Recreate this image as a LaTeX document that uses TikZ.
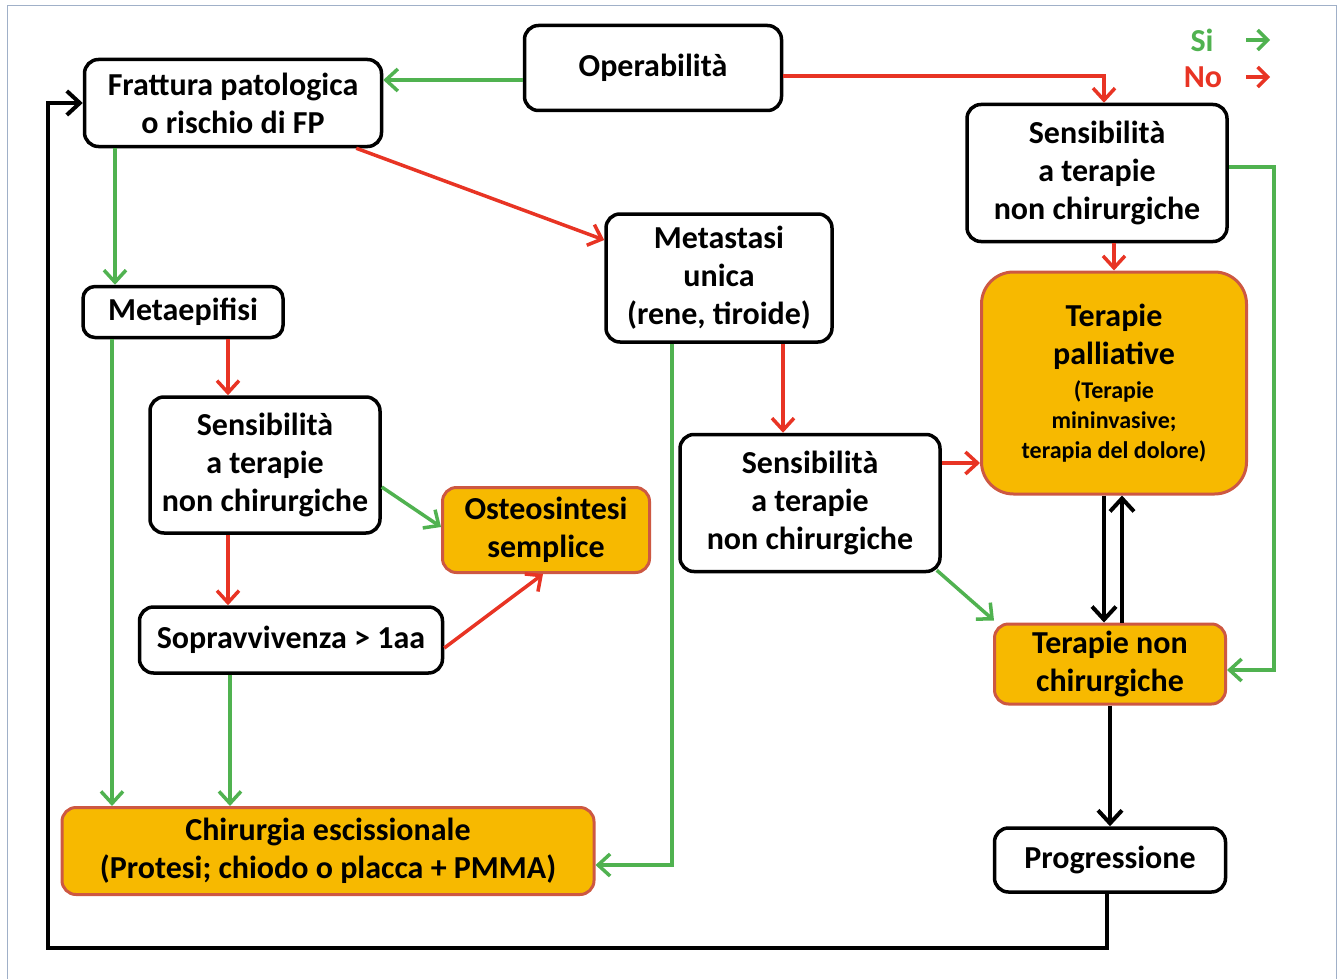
\documentclass[tikz,border=0pt]{standalone}
\usepackage{fontspec}
\setmainfont{Carlito}
\usetikzlibrary{arrows.meta}
\definecolor{grn}{RGB}{80,178,80}
\definecolor{rd}{RGB}{232,52,36}
\definecolor{orng}{RGB}{247,185,0}
\definecolor{orbord}{RGB}{205,88,66}
\definecolor{framec}{RGB}{160,176,200}
\tikzset{
  box/.style={draw=black, line width=3.5pt, rounded corners=14pt, fill=white, align=center,
    font=\bfseries\fontsize{32}{38}\selectfont, inner sep=0pt},
  obox/.style={box, fill=orng, draw=orbord, line width=3pt},
  tip/.style={-{Straight Barb[length=12pt,width=22pt,line width=3.5pt]}},
  gA/.style={draw=grn, line width=3.5pt, tip},
  rA/.style={draw=rd, line width=3.5pt, tip},
  kA/.style={draw=black, line width=4pt, -{Straight Barb[length=13pt,width=24pt,line width=4pt]}},
}
\newcommand{\smallpal}{\fontsize{24}{30}\selectfont}
\begin{document}
\begin{tikzpicture}[x=1pt,y=-1pt]
\useasboundingbox (0,0) rectangle (1343,979);
\draw[framec, line width=1pt] (7,985) -- (7,6) -- (1336,6) -- (1336,985);

% nodes
\node[box, minimum width=257pt, minimum height=85pt] (op) at (653,68) {Operabilità};
\node[box, minimum width=297pt, minimum height=87pt] (fr) at (233,103) {Frattura patologica\\o rischio di FP};
\node[box, minimum width=260pt, minimum height=137pt] (s1) at (1097,173) {Sensibilità\\a terapie\\non chirurgiche};
\node[box, minimum width=226pt, minimum height=128pt] (met) at (719,278) {Metastasi\\unica\\(rene, tiroide)};
\node[box, minimum width=200pt, minimum height=51pt, rounded corners=12pt] (mea) at (183,312) {Metaepifisi};
\node[box, minimum width=230pt, minimum height=136pt] (s2) at (265,465) {Sensibilità\\a terapie\\non chirurgiche};
\node[obox, minimum width=207pt, minimum height=85pt] (ost) at (546,530) {Osteosintesi\\semplice};
\node[box, minimum width=303pt, minimum height=66pt] (sop) at (291,640) {Sopravvivenza > 1aa};
\node[box, minimum width=260pt, minimum height=137pt] (s3) at (810,503) {Sensibilità\\a terapie\\non chirurgiche};
\node[obox, minimum width=265pt, minimum height=222pt, rounded corners=32pt] (pal) at (1114,383)
  {Terapie\\palliative\\[-4pt]{\smallpal (Terapie}\\[-8pt]{\smallpal mininvasive;}\\[-8pt]{\smallpal terapia del dolore)}};
\node[obox, minimum width=231pt, minimum height=80pt] (tnc) at (1110,664) {Terapie non\\chirurgiche};
\node[obox, minimum width=532pt, minimum height=87pt] (chi) at (328,851) {Chirurgia escissionale\\(Protesi; chiodo o placca + PMMA)};
\node[box, minimum width=231pt, minimum height=64pt] (pro) at (1110,860) {Progressione};

% legend
\node[font=\bfseries\fontsize{32}{36}\selectfont, text=grn] (si) at (1202,40) {Si};
\node[font=\bfseries\fontsize{32}{36}\selectfont, text=rd] (no) at (1203,77) {No};
\coordinate (sia) at (1246,40); \coordinate (sib) at (1270,40);
\coordinate (noa) at (1246,77); \coordinate (nob) at (1270,77);
\draw[draw=grn, line width=3.5pt, -{Straight Barb[length=10pt,width=20pt,line width=3.5pt]}] (sia) -- (sib);
\draw[draw=rd, line width=3.5pt, -{Straight Barb[length=10pt,width=20pt,line width=3.5pt]}] (noa) -- (nob);

% connectors
\draw[gA] ([yshift=-12pt]op.west) coordinate (t1) -- (fr.east |- t1);
\draw[rA] ([yshift=-8pt]op.east) -| ([xshift=7pt]s1.north);
\draw[rA] ([xshift=-27pt]fr.south east) -- ([yshift=38pt]met.west);
\draw[gA] ([xshift=-118pt]fr.south) coordinate (t2) -- (t2 |- mea.north);
\draw[gA] ([xshift=-71pt]mea.south) coordinate (t3) -- (t3 |- chi.north);
\draw[rA] ([xshift=45pt]mea.south) coordinate (t4) -- (t4 |- s2.north);
\draw[rA] ([xshift=-37pt]s2.south) coordinate (t5) -- (t5 |- sop.north);
\draw[gA] ([yshift=-22pt]s2.east) -- ([yshift=3pt]ost.west);
\draw[rA] ([yshift=-8pt]sop.east) -- ([xshift=-3pt]ost.south);
\draw[gA] ([xshift=-61pt]sop.south) coordinate (t6) -- (t6 |- chi.north);
\draw[gA] ([xshift=-47pt]met.south) |- ([yshift=-14pt]chi.east);
\draw[rA] ([xshift=64pt]met.south) coordinate (t7) -- (t7 |- s3.north);
\draw[rA] ([yshift=40pt]s3.east) coordinate (t8) -- (pal.west |- t8);
\draw[gA] ([xshift=-5pt,yshift=3pt]s3.south east) -- ([xshift=1pt,yshift=2pt]tnc.north west);
\draw[rA] ([xshift=17pt]s1.south) coordinate (t9) -- (t9 |- pal.north);
\draw[gA] ([yshift=6pt]s1.east) -- ++(45,0) |- ([yshift=-6pt]tnc.east);
\draw[kA] ([xshift=-10pt]pal.south) coordinate (t10) -- (t10 |- tnc.north);
\draw[kA] ([xshift=12pt]tnc.north) coordinate (t11) -- (t11 |- pal.south);
\draw[kA] (tnc.south) -- (pro.north);
\coordinate (lb) at (48,948);
\draw[kA] ([xshift=-3pt]pro.south) |- (lb) |- (fr.west);
\end{tikzpicture}
\end{document}
